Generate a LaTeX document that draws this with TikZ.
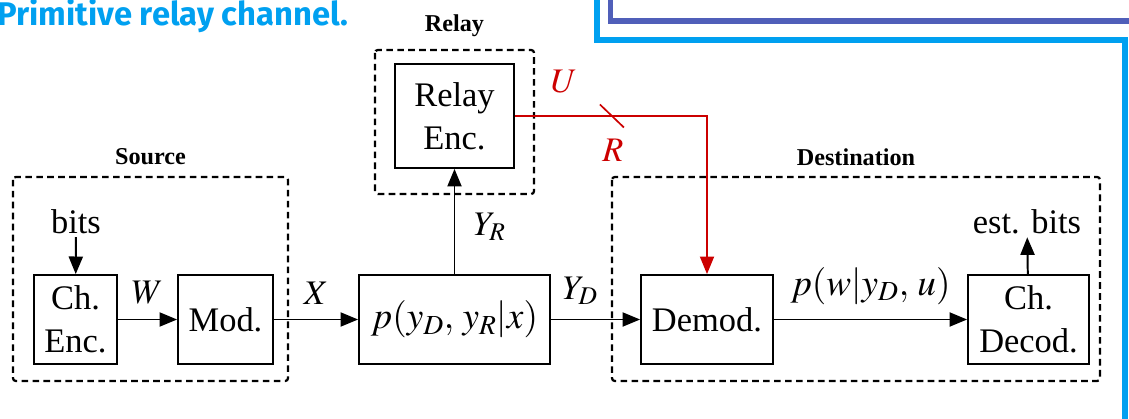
\documentclass[tikz,border=0pt]{standalone}
\usepackage{mathptmx}
\usepackage[no-math]{fontspec}
\setmainfont{Liberation Serif}
\newfontfamily\titlefont{Fira Sans}
\usepackage{tikz}
\usetikzlibrary{calc,arrows.meta}
\usepackage{xcolor}
\definecolor{titlecyan}{RGB}{0,160,240}
\definecolor{frameblue}{RGB}{80,95,185}
\definecolor{linkred}{RGB}{204,0,0}

\tikzset{
    blk/.style={draw,line width=1.3pt,inner sep=0pt,align=center,minimum height=89*\w cm},
    grp/.style={line width=1.6pt,dash pattern=on 4.7pt off 3.1pt,rounded corners=2pt},
    grplbl/.style={font=\fontsize{17.2}{20}\selectfont\bfseries},
    arr/.style={line width=1.4pt,-{Triangle[length=12.5pt,width=10pt]}},
    lbl/.style={inner sep=2pt,above=8pt},
    bigmath/.style={font=\fontsize{26.5}{30.5}\selectfont}
}

\begin{document}
\begin{tikzpicture}[x=0.025cm,y=-0.025cm,font=\fontsize{24.5}{30.5}\selectfont]
    \clip (0,0) rectangle (1129,419);
    \pgfmathsetmacro{\w}{0.025}	%scale

    \coordinate (S1) at (13,177);
    \coordinate (S2) at (288,381);
    \coordinate (R1) at (375,50);
    \coordinate (R2) at (534,194);
    \coordinate (D1) at (612,177);
    \coordinate (D2) at (1100,381);

    % slide frame
    \draw[titlecyan,line width=3.9pt] (597,-10) |- (1125,40) -- (1125,430);
    \draw[frameblue,line width=3.9pt] (610.5,-10) |- (1140,21);
    \node[anchor=base west,inner sep=0pt,text=titlecyan,font=\titlefont\bfseries\fontsize{23.3}{26}\selectfont] (title) at (-3,25.5) {Primitive relay channel.};

    \draw[grp] (S1) rectangle (S2);
    \draw[grp] (R1) rectangle (R2);
    \draw[grp] (D1) rectangle (D2);
    \node[grplbl] (srclbl) at ($(S1)!0.5!(S2|-S1)+(0,-20)$) {Source};
    \node[grplbl] (rlylbl) at ($(R1)!0.5!(R2|-R1)+(0,-24)$) {Relay};
    \node[grplbl] (dstlbl) at ($(D1)!0.5!(D2|-D1)+(0,-20)$) {Destination};

    \node[blk,minimum width=83*\w cm] (chenc) at (75.5,319.5) {Ch.\\Enc.};
    \node[blk,minimum width=95*\w cm] (mod) at (225.5,319.5) {Mod.};
    \node[blk,bigmath,minimum width=191*\w cm] (chan) at (454.5,319.5) {$p(y_D,\,y_R|x)$};
    \node[blk,minimum width=119*\w cm,minimum height=104*\w cm] (relenc) at (454.5,116) {Relay\\Enc.};
    \node[blk,minimum width=132*\w cm] (demod) at (707,319.5) {Demod.};
    \node[blk,minimum width=121*\w cm] (chdec) at (1028.5,319.5) {Ch.\\Decod.};
    \node[inner sep=2pt] (bits) at (76,222) {bits};
    \node[inner sep=2pt] (estbits) at (1027,222) {est. bits};

    \draw[arr] (bits) -- (chenc);
    \draw[arr] (chenc) -- node[lbl] {$W$} (mod);
    \draw[arr] (mod) -- node[lbl] {$X$} (chan);
    \draw[arr] (chan) -- node[lbl,pos=0.33] {$Y_D$} (demod);
    \draw[arr] (chan) -- node[right=11pt,inner sep=2pt,pos=0.45] {$Y_R$} (relenc);
    \draw[arr] (demod) -- node[lbl,bigmath] {$p(w|y_D,\,u)$} (chdec);
    \draw[arr] (chdec) -- (estbits);

    % relay link of rate R
    \draw[linkred,line width=1.2pt,-{Triangle[length=12.5pt,width=10pt]}] (relenc) -| (demod);
    \node[text=linkred] (U) at ($(relenc.east)+(49,-34)$) {$U$};
    \node[text=linkred] (R) at ($(relenc.east)+(98,34)$) {$R$};
    \draw[linkred,line width=1.2pt] ($(relenc.east)+(85,-11.5)$) -- ($(relenc.east)+(109,11.5)$);
\end{tikzpicture}
\end{document}
